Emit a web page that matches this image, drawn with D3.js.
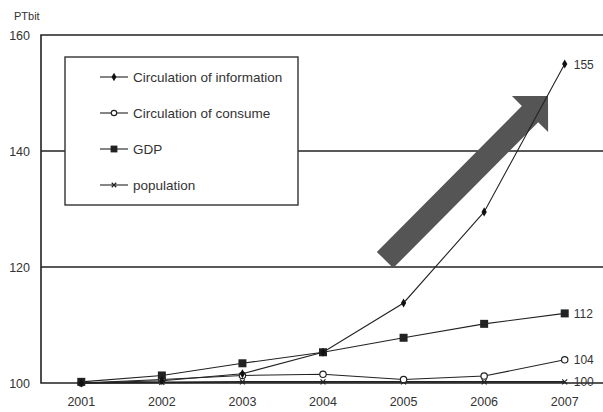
<!DOCTYPE html>
<html>
<head>
<meta charset="utf-8">
<script src="https://cdn.jsdelivr.net/npm/d3@7/dist/d3.min.js"></script>
<style>
  html, body { margin: 0; padding: 0; background: #fff; }
  svg text { font-family: "Liberation Sans", Arial, sans-serif; fill: #333; }
</style>
</head>
<body>
<svg id="chart" width="603" height="412"></svg>
<script>
// Yearly index values (2001 = 100)
const years = ["2001", "2002", "2003", "2004", "2005", "2006", "2007"];
const information = [100, 100.4, 101.6, 105.3, 113.8, 129.5, 155];
const consume = [100, 100.6, 101.3, 101.5, 100.6, 101.2, 104];
const gdp = [100.2, 101.3, 103.4, 105.3, 107.8, 110.2, 112];
const population = [100, 100.1, 100.2, 100.2, 100.2, 100.2, 100.2];
const yTicks = [100, 120, 140, 160];
const endLabels = ["155", "104", "112", "100"];

const seriesList = [
  { name: "Circulation of information", values: information, marker: "diamond", end: endLabels[0] },
  { name: "Circulation of consume", values: consume, marker: "circle", end: endLabels[1] },
  { name: "GDP", values: gdp, marker: "square", end: endLabels[2] },
  { name: "population", values: population, marker: "cross", end: endLabels[3] }
];

const svg = d3.select("#chart");
const plotLeft = 41, plotRight = 605, plotTop = 35, plotBottom = 383;

const x = d3.scaleBand().domain(years).range([plotLeft, plotRight]);
const y = d3.scaleLinear().domain([100, 160]).range([plotBottom, plotTop]);
const cx = d => x(d) + x.bandwidth() / 2;

// Horizontal grid lines
svg.append("g").selectAll("line")
  .data([120, 140])
  .join("line")
  .attr("x1", plotLeft).attr("x2", 603)
  .attr("y1", d => y(d)).attr("y2", d => y(d))
  .attr("stroke", "#222").attr("stroke-width", 1.3);

// Plot frame (left, top, bottom)
svg.append("path")
  .attr("d", `M603,${plotTop}H${plotLeft}V${plotBottom}H603`)
  .attr("fill", "none").attr("stroke", "#222").attr("stroke-width", 1.6);

// Y axis labels
const yAxis = d3.axisLeft(y).tickValues(yTicks).tickSize(0).tickPadding(11);
const gy = svg.append("g").attr("transform", `translate(${plotLeft},0)`).call(yAxis);
gy.select(".domain").remove();
gy.selectAll("text").style("font-size", "12.5px").style("fill", "#333")
  .style("font-family", "'Liberation Sans', Arial, sans-serif");

// X axis labels
const xAxis = d3.axisBottom(x).tickSize(0).tickPadding(14);
const gx = svg.append("g").attr("transform", `translate(0,${plotBottom})`).call(xAxis);
gx.select(".domain").remove();
gx.selectAll("text").style("font-size", "12.5px").style("fill", "#333")
  .style("font-family", "'Liberation Sans', Arial, sans-serif");

// Unit label
svg.append("text").attr("x", 14).attr("y", 20).style("font-size", "11px").text("PTbit");

// Trend arrow
const tail = [385, 260], tip = [548, 96];
const ang = Math.atan2(tip[1] - tail[1], tip[0] - tail[0]);
const len = Math.hypot(tip[0] - tail[0], tip[1] - tail[1]);
const sw = 11.5, hw = 25.5, hl = 25.5;
const arrowPts = [[0, -sw], [len - hl, -sw], [len - hl, -hw], [len, 0], [len - hl, hw], [len - hl, sw], [0, sw]];
svg.append("polygon")
  .attr("points", arrowPts.map(p => p.join(",")).join(" "))
  .attr("transform", `translate(${tail[0]},${tail[1]}) rotate(${ang * 180 / Math.PI})`)
  .attr("fill", "#555");

// Marker drawing helper
function drawMarker(g, type, px, py, scale) {
  const s = scale || 1;
  if (type === "diamond") {
    g.append("path").attr("d", d3.symbol(d3.symbolDiamond, 24 * s)())
      .attr("transform", `translate(${px},${py})`).attr("fill", "#111");
  } else if (type === "circle") {
    g.append("circle").attr("cx", px).attr("cy", py).attr("r", 3.2 * s)
      .attr("fill", "#fff").attr("stroke", "#222").attr("stroke-width", 1.2);
  } else if (type === "square") {
    g.append("rect").attr("x", px - 4 * s).attr("y", py - 4 * s)
      .attr("width", 8 * s).attr("height", 8 * s).attr("fill", "#222");
  } else {
    g.append("path").attr("d", d3.symbol(d3.symbolTimes, 18 * s)())
      .attr("transform", `translate(${px},${py})`)
      .attr("fill", "none").attr("stroke", "#222").attr("stroke-width", 1.2);
  }
}

// Series lines and markers
const line = d3.line().x((d, i) => cx(years[i])).y(d => y(d));
const drawOrder = [3, 1, 2, 0];
drawOrder.forEach(k => {
  const s = seriesList[k];
  const g = svg.append("g");
  g.append("path").attr("d", line(s.values))
    .attr("fill", "none").attr("stroke", "#222").attr("stroke-width", k === 3 ? 1.6 : 1.1);
  s.values.forEach((v, i) => drawMarker(g, s.marker, cx(years[i]), y(v)));
  g.append("text")
    .attr("x", cx(years[years.length - 1]) + 9)
    .attr("y", y(s.values[s.values.length - 1]) + 4.5)
    .style("font-size", "12px")
    .text(s.end);
});

// Legend
const lg = svg.append("g");
lg.append("rect").attr("x", 65).attr("y", 57).attr("width", 233).attr("height", 148)
  .attr("fill", "#fff").attr("stroke", "#333").attr("stroke-width", 1.4);
seriesList.forEach((s, i) => {
  const ly = 77 + i * 36;
  lg.append("line").attr("x1", 100).attr("x2", 128).attr("y1", ly).attr("y2", ly)
    .attr("stroke", "#222").attr("stroke-width", 1.1);
  drawMarker(lg, s.marker, 114, ly, 0.85);
  lg.append("text").attr("x", 133).attr("y", ly + 4.5).style("font-size", "13.5px").text(s.name);
});
</script>
</body>
</html>
